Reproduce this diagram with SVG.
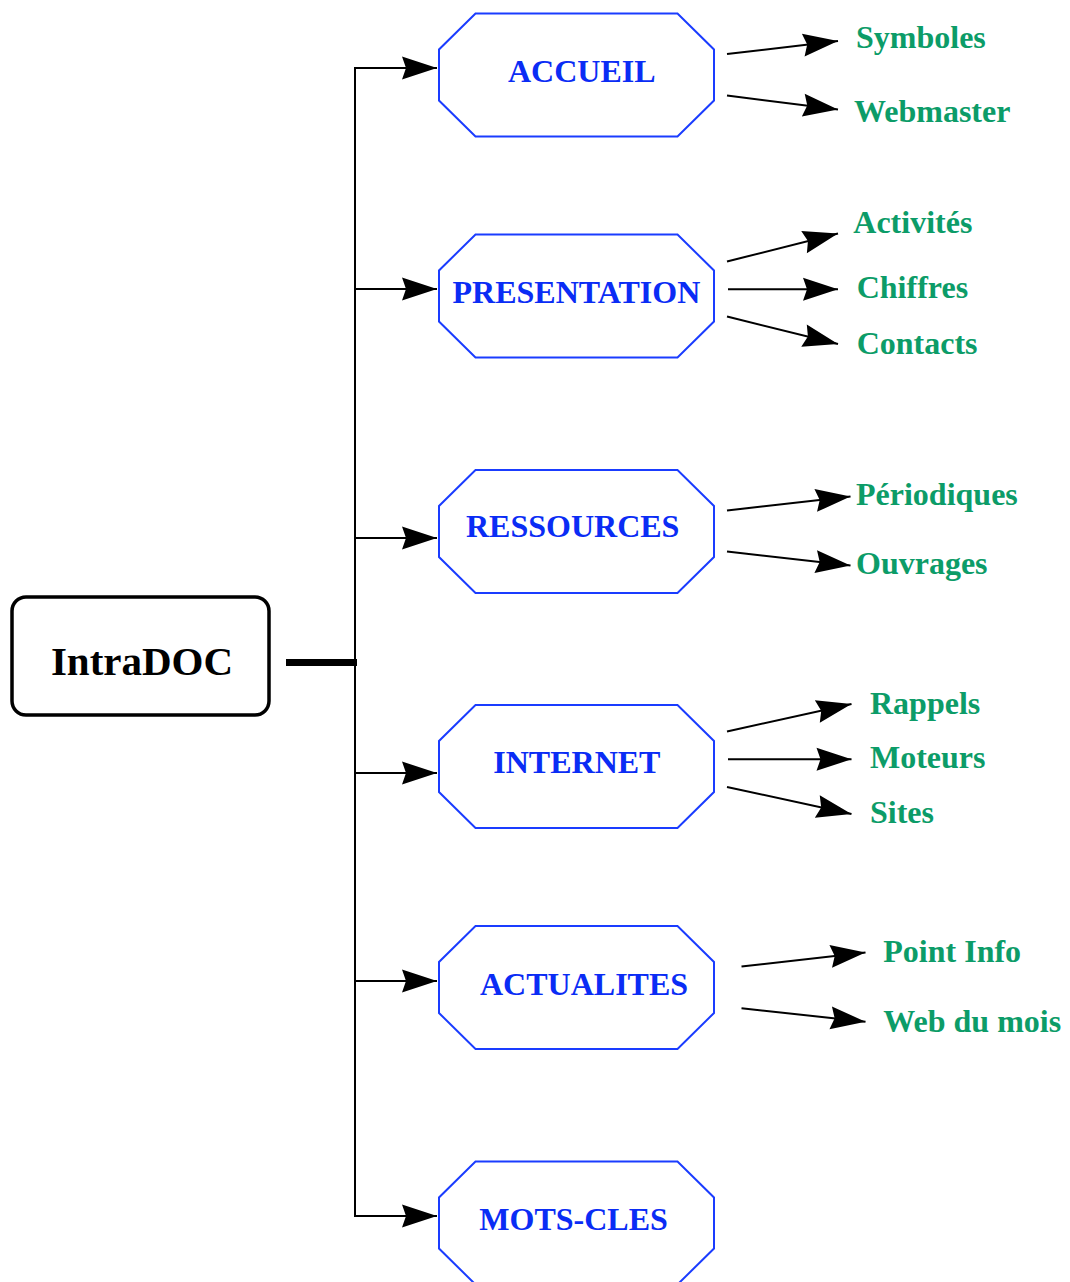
<svg xmlns="http://www.w3.org/2000/svg" width="1070" height="1282" viewBox="0 0 1070 1282">
  <style>
    .root-box { fill: #ffffff; stroke: #000000; stroke-width: 3.5; }
    .root-label { font-family: "Liberation Serif", "Times New Roman", serif; font-weight: bold; font-size: 41px; fill: #000000; }
    .section { fill: #ffffff; stroke: #1a3cff; stroke-width: 2; }
    .section-label { font-family: "Liberation Serif", "Times New Roman", serif; font-weight: bold; font-size: 32px; fill: #0a2cf5; }
    .page-label { font-family: "Liberation Serif", "Times New Roman", serif; font-weight: bold; font-size: 32px; fill: #0c9c68; }
    .wire { fill: none; stroke: #000000; stroke-width: 2; }
    .arrow { fill: none; stroke: #000000; stroke-width: 2; marker-end: url(#head); }
  </style>
  <defs>
    <marker id="head" markerUnits="userSpaceOnUse" markerWidth="42" markerHeight="28" viewBox="-38 -14 42 28" refX="0" refY="0" orient="auto">
      <path d="M0,0 L-35,-11.5 L-31,0 L-35,11.5 Z" fill="#000000"/>
    </marker>
    <polygon id="octagon" points="36.5,0 238.5,0 275,36 275,87 238.5,123 36.5,123 0,87 0,36"/>
  </defs>

  <rect width="1070" height="1282" fill="#ffffff"/>

  <!-- connectors -->
  <g id="connectors">
    <line x1="286" y1="662.5" x2="357" y2="662.5" stroke="#000000" stroke-width="7"/>
    <line class="wire" x1="355" y1="67" x2="355" y2="1217"/>
    <path class="arrow" d="M354,68 H437"/>
    <path class="arrow" d="M354,289 H437"/>
    <path class="arrow" d="M354,538 H437"/>
    <path class="arrow" d="M354,773 H437"/>
    <path class="arrow" d="M354,981 H437"/>
    <path class="arrow" d="M354,1216 H437"/>

    <path class="arrow" d="M727,54 L838,41"/>
    <path class="arrow" d="M727,95.5 L838,109.5"/>

    <path class="arrow" d="M727,261.5 L838,233.5"/>
    <path class="arrow" d="M728,289.3 L838,289.3"/>
    <path class="arrow" d="M727,316.5 L838,344"/>

    <path class="arrow" d="M727,510.5 L850.5,496.5"/>
    <path class="arrow" d="M727,551.5 L850.5,565.5"/>

    <path class="arrow" d="M727,731.5 L851.5,704"/>
    <path class="arrow" d="M728,759.3 L851.5,759.3"/>
    <path class="arrow" d="M727,787 L851.5,814"/>

    <path class="arrow" d="M741.5,966.5 L865.5,952.5"/>
    <path class="arrow" d="M741.5,1008.3 L865.5,1021.7"/>
  </g>

  <!-- root -->
  <g id="intradoc">
    <rect class="root-box" x="12" y="597" width="257" height="118" rx="14" ry="14"/>
    <text class="root-label" x="142" y="675" text-anchor="middle">IntraDOC</text>
  </g>

  <!-- sections -->
  <g id="accueil">
    <use href="#octagon" class="section" x="439" y="13.5"/>
    <text class="section-label" x="508" y="82">ACCUEIL</text>
  </g>
  <g id="presentation">
    <use href="#octagon" class="section" x="439" y="234.5"/>
    <text class="section-label" x="452.5" y="302.7">PRESENTATION</text>
  </g>
  <g id="ressources">
    <use href="#octagon" class="section" x="439" y="470"/>
    <text class="section-label" x="466" y="537.3">RESSOURCES</text>
  </g>
  <g id="internet">
    <use href="#octagon" class="section" x="439" y="705"/>
    <text class="section-label" x="493.3" y="772.7">INTERNET</text>
  </g>
  <g id="actualites">
    <use href="#octagon" class="section" x="439" y="926"/>
    <text class="section-label" x="480" y="995">ACTUALITES</text>
  </g>
  <g id="mots-cles">
    <use href="#octagon" class="section" x="439" y="1161.5"/>
    <text class="section-label" x="479.3" y="1230">MOTS-CLES</text>
  </g>

  <!-- pages -->
  <g id="symboles"><text class="page-label" x="856" y="48.3">Symboles</text></g>
  <g id="webmaster"><text class="page-label" x="854" y="121.7">Webmaster</text></g>
  <g id="activites"><text class="page-label" x="853.3" y="233.3">Activités</text></g>
  <g id="chiffres"><text class="page-label" x="856.7" y="298.3">Chiffres</text></g>
  <g id="contacts"><text class="page-label" x="856.7" y="354">Contacts</text></g>
  <g id="periodiques"><text class="page-label" x="856" y="505">Périodiques</text></g>
  <g id="ouvrages"><text class="page-label" x="856" y="574.3">Ouvrages</text></g>
  <g id="rappels"><text class="page-label" x="870" y="714">Rappels</text></g>
  <g id="moteurs"><text class="page-label" x="870" y="768.3">Moteurs</text></g>
  <g id="sites"><text class="page-label" x="870" y="823.3">Sites</text></g>
  <g id="point-info"><text class="page-label" x="883.3" y="961.7">Point Info</text></g>
  <g id="web-du-mois"><text class="page-label" x="883.3" y="1031.7">Web du mois</text></g>
</svg>
